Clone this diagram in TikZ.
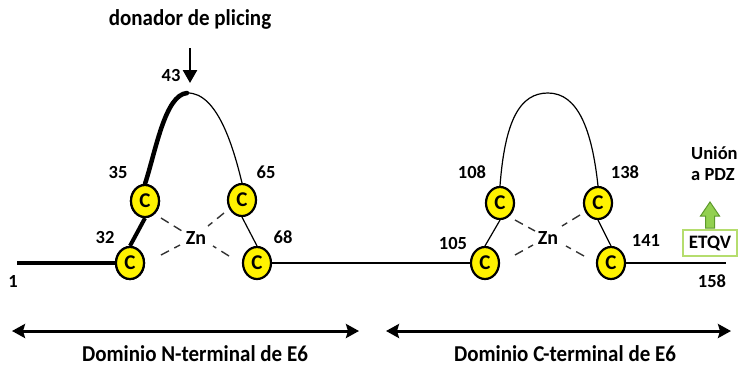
\documentclass[tikz,border=0pt]{standalone}
\usepackage{fontspec}
\setmainfont{Carlito}
\usetikzlibrary{shapes.geometric,arrows.meta}
\definecolor{cysyellow}{HTML}{FFF200}
\definecolor{pdzgreen}{HTML}{92D050}
\definecolor{pdzedge}{HTML}{5E9A2C}
\definecolor{boxedge}{HTML}{B5DD6E}
\tikzset{
  cys/.style={ellipse, draw=black, line width=2.2pt, fill=cysyellow,
    minimum width=28pt, minimum height=32pt, inner sep=0pt,
    font=\bfseries\fontsize{21}{21}\selectfont},
  num/.style={font=\bfseries\fontsize{18.5}{18.5}\selectfont, inner sep=0pt},
  lbl/.style={font=\bfseries\fontsize{21}{21}\selectfont, inner sep=0pt, yscale=1.08},
  chain/.style={line width=1.2pt},
  heavy/.style={line width=4.5pt},
  zinc/.style={line width=1.4pt, dash pattern=on 9pt off 6pt, black!80},
  span/.style={line width=3pt, {Stealth[length=13pt,width=14pt,inset=2pt]}-{Stealth[length=13pt,width=14pt,inset=2pt]}}
}
\begin{document}
\begin{tikzpicture}[x=1pt,y=-1pt]
\useasboundingbox (0,0) rectangle (739,368);

% splice donor marker
\node[lbl] (donor) at (190,19) {donador de plicing};
\coordinate (dtop) at (190,48);
\coordinate (dtip) at (190,83);
\draw[line width=2.6pt,-{Triangle[length=13pt,width=14pt]}] (dtop) -- (dtip);
\node[num] (n43) at (171,75) {43};

% N-terminal zinc finger
\node[cys] (c32) at (130,263) {C};
\node[cys] (c35) at (145,201) {C};
\node[cys] (c65) at (242,200) {C};
\node[cys] (c68) at (257,263) {C};
\node[num, font=\bfseries\fontsize{20}{20}\selectfont] (zn1) at (196,238) {Zn};
\coordinate (start) at (17,263);
\coordinate (peak1) at (187,93);

% C-terminal zinc finger
\node[cys] (c105) at (485,263) {C};
\node[cys] (c108) at (500,203) {C};
\node[cys] (c138) at (598,203) {C};
\node[cys] (c141) at (611,263) {C};
\node[num, font=\bfseries\fontsize{20}{20}\selectfont] (zn2) at (548,238) {Zn};

% PDZ-binding motif
\node[draw=boxedge, line width=1.2pt, fill=white, minimum width=54pt,
  minimum height=26pt, inner sep=0pt, text width=50pt, align=center,
  font=\bfseries\fontsize{19}{19}\selectfont]
  (etqv) at (710,243) {ETQV};
\coordinate (cend) at (726,263);

% backbone
\draw[chain] (c68.east) -- (c105.west);
\draw[chain] (c141.east) -- (cend);
\draw[heavy] (start) -- (c32.west);
\draw[line width=4pt] (c32.north) -- (c35.south);
\draw[heavy, line cap=round] (c35.north) .. controls (156,150) and (165,95) .. (peak1);
\draw[chain] (peak1) .. controls (218,92) and (234,150) .. (c65.north);
\draw[chain] (c65.south) -- (c68.north);
\draw[chain] (c105.north) -- (c108.south);
\draw[chain] (c108.north) .. controls (505,120) and (520,93) .. (548,93)
  .. controls (578,93) and (592,130) .. (c138.north);
\draw[chain] (c138.south) -- (c141.north);
\node[cys] at (c32) {C};
\node[cys] at (c35) {C};

% zinc coordination
\draw[zinc] (161,218) -- (182,231);
\draw[zinc] (224,213) -- (208,226);
\draw[zinc] (161,255) -- (180,245);
\draw[zinc] (229,256) -- (213,246);
\draw[zinc] (515,220) -- (535,231);
\draw[zinc] (580,215) -- (562,226);
\draw[zinc] (515,255) -- (533,245);
\draw[zinc] (584,256) -- (566,246);

% residue numbers
\node[num] (n1) at (13,281) {1};
\node[num] (n32) at (105,237) {32};
\node[num] (n35) at (118,172) {35};
\node[num] (n65) at (266,172) {65};
\node[num] (n68) at (283,237) {68};
\node[num] (n105) at (453,243) {105};
\node[num] (n108) at (472,172) {108};
\node[num] (n138) at (625,172) {138};
\node[num] (n141) at (646,240) {141};
\node[num] (n158) at (712,281) {158};

% PDZ block arrow pointing up from the motif
\coordinate (pdz) at (710,215);
\draw[pdzedge, fill=pdzgreen, line width=1pt, line join=miter]
  ([xshift=-4.5pt,yshift=-13pt]pdz) -- ([xshift=-4.5pt,yshift=-1pt]pdz)
  -- ([xshift=-9.5pt,yshift=-1pt]pdz) -- ([yshift=13pt]pdz)
  -- ([xshift=9.5pt,yshift=-1pt]pdz) -- ([xshift=4.5pt,yshift=-1pt]pdz)
  -- ([xshift=4.5pt,yshift=-13pt]pdz) -- cycle;
\node[num, anchor=west] (union) at (691,153) {Unión};
\node[num, anchor=west] (apdz) at (691,175) {a PDZ};

% domain spans
\coordinate (na) at (12,331);
\coordinate (nb) at (359,331);
\coordinate (ca) at (386,331);
\coordinate (cb) at (731,331);
\draw[span] (na) -- (nb);
\draw[span] (ca) -- (cb);
\node[lbl] (ndom) at (195,354) {Dominio N-terminal de E6};
\node[lbl] (cdom) at (565,354) {Dominio C-terminal de E6};
\end{tikzpicture}
\end{document}
